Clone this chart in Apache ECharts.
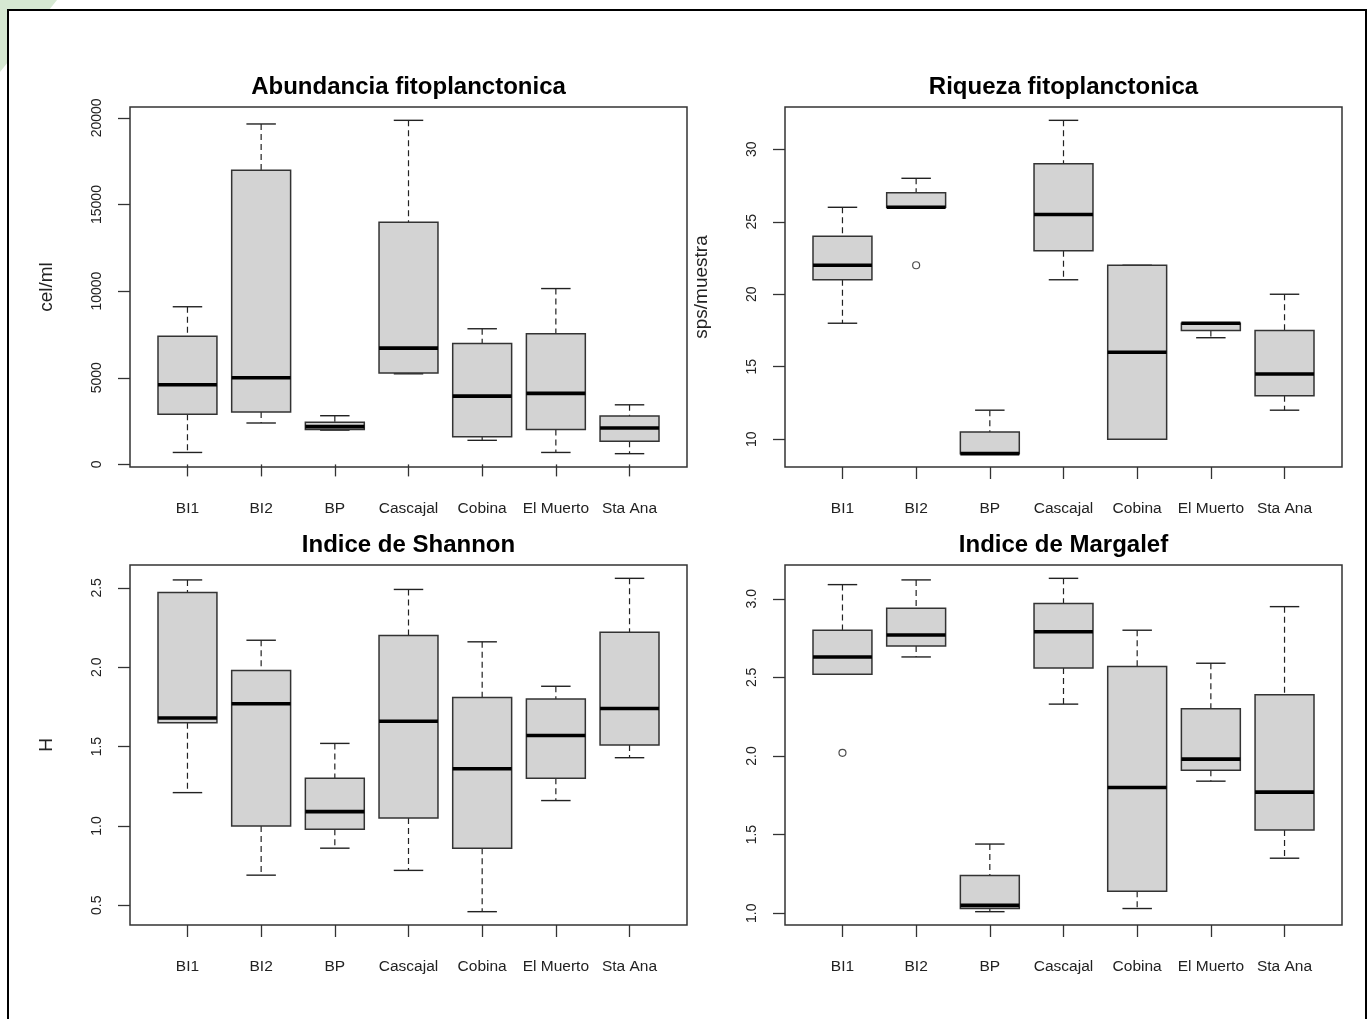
<!DOCTYPE html>
<html><head><meta charset="utf-8">
<script src="https://cdn.jsdelivr.net/npm/echarts@6/dist/echarts.min.js"></script>
<style>html,body{margin:0;padding:0;background:#fff}#c{width:1370px;height:1019px}</style>
</head><body><div id="c"></div><script>
// ---- data (min, Q1, median, Q3, max) per site ----
var categories = ['BI1', 'BI2', 'BP', 'Cascajal', 'Cobina', 'El Muerto', 'Sta Ana'];

var abundancia = [
  [690, 2890, 4600, 7400, 9100],
  [2390, 3020, 5000, 16980, 19650],
  [1980, 2020, 2180, 2440, 2810],
  [5230, 5270, 6710, 13980, 19860],
  [1390, 1600, 3940, 6980, 7830],
  [690, 2020, 4100, 7540, 10150],
  [620, 1330, 2100, 2790, 3440]
];
var abundanciaOut = [];
var abundanciaTicks = [0, 5000, 10000, 15000, 20000];

var riqueza = [
  [18, 21, 22, 24, 26],
  [26, 26, 26, 27, 28],
  [9, 9, 9, 10.5, 12],
  [21, 23, 25.5, 29, 32],
  [10, 10, 16, 22, 22],
  [17, 17.5, 18, 18, 18],
  [12, 13, 14.5, 17.5, 20]
];
var riquezaOut = [[2, 22]];
var riquezaTicks = [10, 15, 20, 25, 30];

var shannon = [
  [1.21, 1.65, 1.68, 2.47, 2.55],
  [0.69, 1.00, 1.77, 1.98, 2.17],
  [0.86, 0.98, 1.09, 1.30, 1.52],
  [0.72, 1.05, 1.66, 2.20, 2.49],
  [0.46, 0.86, 1.36, 1.81, 2.16],
  [1.16, 1.30, 1.57, 1.80, 1.88],
  [1.43, 1.51, 1.74, 2.22, 2.56]
];
var shannonOut = [];
var shannonTicks = [0.5, 1.0, 1.5, 2.0, 2.5];

var margalef = [
  [2.52, 2.52, 2.63, 2.80, 3.09],
  [2.63, 2.70, 2.77, 2.94, 3.12],
  [1.01, 1.03, 1.05, 1.24, 1.44],
  [2.33, 2.56, 2.79, 2.97, 3.13],
  [1.03, 1.14, 1.80, 2.57, 2.80],
  [1.84, 1.91, 1.98, 2.30, 2.59],
  [1.35, 1.53, 1.77, 2.39, 2.95]
];
var margalefOut = [[1, 2.02]];
var margalefTicks = [1.0, 1.5, 2.0, 2.5, 3.0];

var titles = ['Abundancia fitoplanctonica', 'Riqueza fitoplanctonica', 'Indice de Shannon', 'Indice de Margalef'];
var yNames = ['cel/ml', 'sps/muestra', 'H', ''];
var xTicks = [1, 2, 3, 4, 5, 6, 7];

// ---- build ----
var panels = [
  {boxes: abundancia, outs: abundanciaOut, ticks: abundanciaTicks, fmt: function (v) { return String(v); }},
  {boxes: riqueza, outs: riquezaOut, ticks: riquezaTicks, fmt: function (v) { return String(v); }},
  {boxes: shannon, outs: shannonOut, ticks: shannonTicks, fmt: function (v) { return v.toFixed(1); }},
  {boxes: margalef, outs: margalefOut, ticks: margalefTicks, fmt: function (v) { return v.toFixed(1); }}
];
var gridPos = [[130, 107], [785, 107], [130, 565], [785, 565]];
var GW = 557, GH = 360;
var FONT = 'Liberation Sans, Arial, sans-serif';

function rExtent(boxes, outs) {
  var lo = Infinity, hi = -Infinity;
  boxes.forEach(function (b) { b.forEach(function (v) { lo = Math.min(lo, v); hi = Math.max(hi, v); }); });
  outs.forEach(function (o) { lo = Math.min(lo, o[1]); hi = Math.max(hi, o[1]); });
  var d = (hi - lo) * 0.04;
  return [lo - d, hi + d];
}

function renderBox(params, api) {
  var x = api.value(0);
  var p = [1, 2, 3, 4, 5].map(function (k) { return api.coord([x, api.value(k)]); });
  var cx = p[0][0];
  var hw = api.size([0.8, 0])[0] / 2;
  var cw = api.size([0.4, 0])[0] / 2;
  var st = '#222';
  var dash = {stroke: st, lineWidth: 1.2, lineDash: [6, 4]};
  var solid = {stroke: st, lineWidth: 1.4};
  return {
    type: 'group',
    children: [
      {type: 'line', shape: {x1: cx, y1: p[4][1], x2: cx, y2: p[3][1]}, style: dash},
      {type: 'line', shape: {x1: cx, y1: p[1][1], x2: cx, y2: p[0][1]}, style: dash},
      {type: 'line', shape: {x1: cx - cw, y1: p[4][1], x2: cx + cw, y2: p[4][1]}, style: solid},
      {type: 'line', shape: {x1: cx - cw, y1: p[0][1], x2: cx + cw, y2: p[0][1]}, style: solid},
      {type: 'rect', shape: {x: cx - hw, y: p[3][1], width: 2 * hw, height: p[1][1] - p[3][1]},
        style: {fill: '#d3d3d3', stroke: '#333', lineWidth: 1.5}},
      {type: 'line', shape: {x1: cx - hw, y1: p[2][1], x2: cx + hw, y2: p[2][1]}, style: {stroke: '#000', lineWidth: 3.6}}
    ]
  };
}

var grid = [], xAxis = [], yAxis = [], series = [], title = [];
panels.forEach(function (pn, i) {
  var g = gridPos[i];
  grid.push({left: g[0], top: g[1], width: GW, height: GH, show: true, borderColor: '#333', borderWidth: 1.5, backgroundColor: 'transparent', containLabel: false});
  xAxis.push({
    gridIndex: i, type: 'value', min: 0.5 - 0.28, max: 7.5 + 0.28,
    axisLine: {show: false}, splitLine: {show: false},
    axisTick: {show: true, length: 12, lineStyle: {color: '#333', width: 1.3}, customValues: xTicks},
    axisLabel: {customValues: xTicks, margin: 34, fontSize: 15.5, color: '#222', fontFamily: FONT,
      formatter: function (v) { return categories[Math.round(v) - 1]; }}
  });
  var ext = rExtent(pn.boxes, pn.outs);
  yAxis.push({
    gridIndex: i, type: 'value', min: ext[0], max: ext[1],
    name: yNames[i], nameLocation: 'middle', nameGap: 74, nameRotate: 90,
    nameTextStyle: {fontSize: 19, color: '#222', fontFamily: FONT},
    axisLine: {show: false}, splitLine: {show: false},
    axisTick: {show: true, length: 12, lineStyle: {color: '#333', width: 1.3}, customValues: pn.ticks},
    axisLabel: {customValues: pn.ticks, rotate: 90, margin: 26, fontSize: 14, color: '#222', fontFamily: FONT,
      formatter: pn.fmt}
  });
  series.push({
    type: 'custom', xAxisIndex: i, yAxisIndex: i,
    data: pn.boxes.map(function (b, k) { return [k + 1].concat(b); }),
    encode: {x: 0, y: [1, 2, 3, 4, 5]},
    renderItem: renderBox, silent: true
  });
  if (pn.outs.length) {
    series.push({
      type: 'scatter', xAxisIndex: i, yAxisIndex: i, data: pn.outs,
      symbol: 'circle', symbolSize: 7, silent: true,
      itemStyle: {color: '#fff', borderColor: '#222', borderWidth: 1.2}
    });
  }
  title.push({
    text: titles[i], left: g[0] + GW / 2, top: g[1] - 32, textAlign: 'center', padding: 0,
    textStyle: {fontSize: 24, fontWeight: 'bold', color: '#000', fontFamily: FONT}
  });
});

var chart = echarts.init(document.getElementById('c'), null, {renderer: 'canvas'});
chart.setOption({
  backgroundColor: '#fff',
  animation: false,
  title: title,
  grid: grid, xAxis: xAxis, yAxis: yAxis, series: series,
  graphic: {elements: [
    {type: 'polygon', silent: true, shape: {points: [[0, 0], [57, 0], [49, 10], [8, 10], [8, 62], [0, 72]]},
      style: {fill: '#d6e8d2'}},
    {type: 'rect', silent: true, shape: {x: 8, y: 10, width: 1358, height: 1030},
      style: {fill: 'none', stroke: '#000', lineWidth: 2}}
  ]}
});
</script></body></html>
